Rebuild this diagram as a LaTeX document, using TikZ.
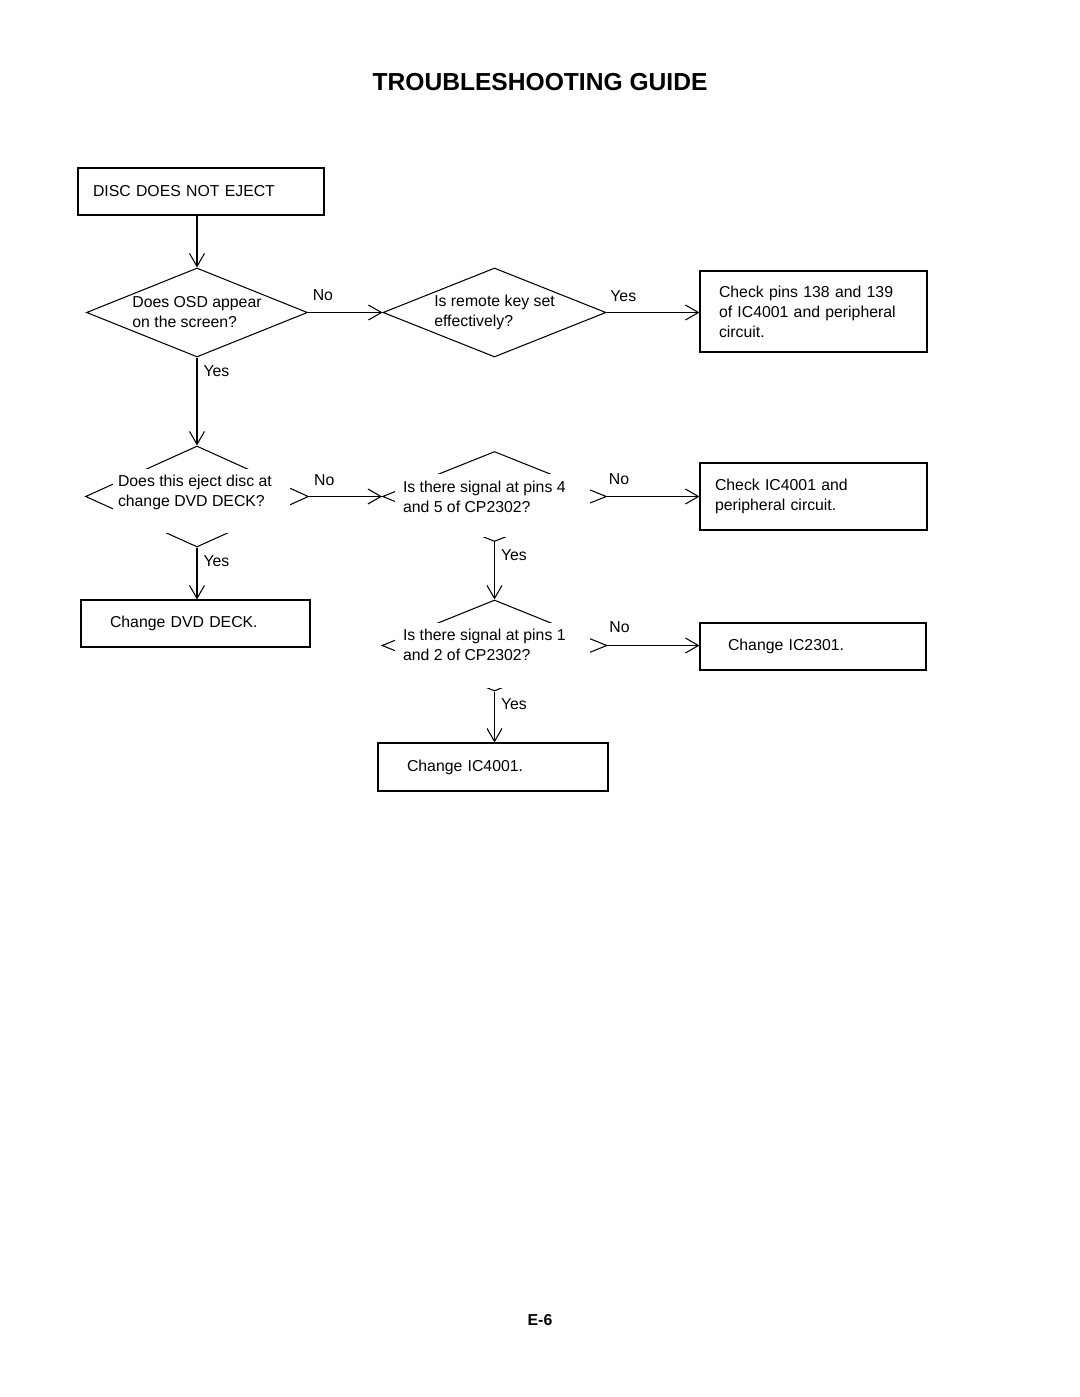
\documentclass[tikz,border=0pt]{standalone}
\usepackage{fontspec}
\setmainfont{Liberation Sans}
\usetikzlibrary{shapes.geometric,arrows.meta}

\begin{document}
\begin{tikzpicture}[
		every node/.style={font=\fontsize{9}{11.4}\selectfont},
		caja/.style={rectangle, draw=black, line width=0.6pt, align=left, inner ysep=0.1cm, minimum height=0.94cm},
		rombo/.style={diamond, draw=black, line width=0.6pt, inner sep=0pt},
		tapa/.style={rectangle, fill=white, inner sep=0pt},
		texto/.style={align=left, inner sep=0pt},
		flecha/.style={draw=black, line width=0.6pt, -{Straight Barb[length=0.26cm, width=0.3cm]}},
		etiq/.style={inner sep=0pt, anchor=base}]
	\useasboundingbox (0,0) rectangle (21.6,-27.94);
	\node[font=\fontsize{14}{16}\selectfont\bfseries] (titulo) at (10.8,-1.64) {TROUBLESHOOTING GUIDE};
	% inicio
	\node[caja, line width=1.4pt, text width=4.32cm, inner xsep=0.3cm] (inicio) at (4.02,-3.83) {DISC DOES NOT EJECT};
	% preguntas
	\node[rombo, minimum width=4.42cm, minimum height=1.78cm] (q1) at (3.94,-6.25) {};
	\node[texto] (t1) at (q1) {Does OSD appear\\on the screen?};
	\node[rombo, minimum width=4.46cm, minimum height=1.78cm] (q2) at (9.89,-6.25) {};
	\node[texto] (t2) at (q2) {Is remote key set\\effectively?};
	\node[rombo, minimum width=4.46cm, minimum height=2.02cm] (q3) at (3.94,-9.93) {};
	\node[tapa, minimum width=3.54cm, minimum height=1.28cm] (c3) at (4.03,-10.02) {};
	\node[texto, anchor=north west, xshift=0.1cm, yshift=-0.12cm] (t3) at (c3.north west) {Does this eject disc at\\change DVD DECK?};
	\node[rombo, minimum width=4.48cm, minimum height=1.8cm] (q4) at (9.89,-9.93) {};
	\node[tapa, minimum width=3.9cm, minimum height=1.26cm] (c4) at (9.85,-10.11) {};
	\node[texto, anchor=north west, xshift=0.16cm, yshift=-0.14cm] (t4) at (c4.north west) {Is there signal at pins 4\\and 5 of CP2302?};
	\node[rombo, minimum width=4.5cm, minimum height=1.82cm] (q5) at (9.89,-12.91) {};
	\node[tapa, minimum width=3.9cm, minimum height=1.3cm] (c5) at (9.85,-13.11) {};
	\node[texto, anchor=north west, xshift=0.16cm, yshift=-0.12cm] (t5) at (c5.north west) {Is there signal at pins 1\\and 2 of CP2302?};
	% resultados
	\node[caja, text width=3.78cm, inner xsep=0.38cm, minimum height=1.62cm] (r1) at (16.27,-6.23) {Check pins 138 and 139\\of IC4001 and peripheral\\circuit.};
	\node[caja, text width=3.94cm, inner xsep=0.3cm, minimum height=1.34cm] (r2) at (16.27,-9.93) {Check IC4001 and\\peripheral circuit.};
	\node[caja, text width=3.42cm, inner xsep=0.58cm] (r3) at (3.91,-12.47) {Change DVD DECK.};
	\node[caja, text width=3.4cm, inner xsep=0.56cm] (r4) at (16.26,-12.93) {Change IC2301.};
	\node[caja, text width=3.44cm, inner xsep=0.58cm, minimum height=0.96cm] (r5) at (9.86,-15.34) {Change IC4001.};
	% flechas
	\draw[flecha] (q1.north |- inicio.south) -- (q1.north);
	\draw[flecha] (q1.east) -- (q2.west) node[etiq, pos=.2, yshift=.24cm] {No};
	\draw[flecha] (q2.east) -- (q2.east -| r1.west) node[etiq, pos=.18, yshift=.22cm] {Yes};
	\draw[flecha] (q1.south) -- (q3.north) node[etiq, anchor=base west, pos=.21, xshift=.12cm] {Yes};
	\draw[flecha] (q3.east) -- (q4.west) node[etiq, pos=.21, yshift=.22cm] {No};
	\draw[flecha] (q4.east) -- (q4.east -| r2.west) node[etiq, pos=.13, yshift=.24cm] {No};
	\draw[flecha] (q3.south) -- (q3.south |- r3.north) node[etiq, anchor=base west, pos=.36, xshift=.12cm] {Yes};
	\draw[flecha] (q4.south) -- (q5.north) node[etiq, anchor=base west, pos=.33, xshift=.12cm] {Yes};
	\draw[flecha] (q5.east) -- (q5.east -| r4.west) node[etiq, pos=.13, yshift=.26cm] {No};
	\draw[flecha] (q5.south) -- (q5.south |- r5.north) node[etiq, anchor=base west, pos=.35, xshift=.12cm] {Yes};
	\node[font=\fontsize{9}{11}\selectfont\bfseries] (pagina) at (10.8,-26.4) {E-6};
\end{tikzpicture}
\end{document}
